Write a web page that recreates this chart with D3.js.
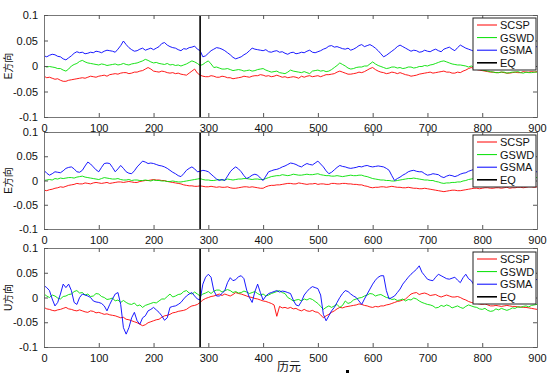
<!DOCTYPE html>
<html>
<head>
<meta charset="utf-8">
<script src="https://cdn.jsdelivr.net/npm/d3@7"></script>
<style>
  body { margin: 0; background: #fff; }
  svg text { font-family: Arial, "Liberation Sans", "Noto Sans CJK SC", sans-serif; }
</style>
</head>
<body>
<div id="chart"></div>
<script>
// values, in units of 0.001 (one value every 5 epochs, 0..900)
const epochStep = 5;
const seriesNames = ["SCSP", "GSWD", "GSMA"];
const eqEpoch = 285;
const xTicks = [0, 100, 200, 300, 400, 500, 600, 700, 800, 900];
const yTicks = [-0.1, -0.05, 0, 0.05, 0.1];
const yTickLabels = ["-0.1", "-0.05", "0", "0.05", "0.1"];
const panelLabels = ["E方向", "E方向", "U方向"];

const scsp1 = [-20,-23,-22,-24,-26,-25,-28,-30,-30,-28, -27,-26,-25,-24,-23,-24,-22,-20,-21,-22,
  -20,-19,-18,-20,-17,-16,-15,-16,-14,-13, -13,-15,-14,-12,-12,-10,-9,-6,-3,-6,
  -10,-11,-12,-10,-11,-13,-14,-13,-15,-14, -16,-17,-18,-14,-10,-6,-14,-18,-20,-21,
  -21,-19,-20,-22,-22,-20,-21,-23,-23,-25, -24,-23,-22,-20,-21,-22,-20,-19,-19,-17,
  -18,-20,-19,-21,-20,-18,-20,-22,-21,-23, -22,-21,-22,-24,-20,-22,-20,-19,-21,-20,
  -19,-21,-19,-17,-17,-16,-15,-12,-10,-12, -14,-16,-16,-15,-14,-12,-13,-11,-8,-5,
  -3,-7,-10,-12,-13,-15,-14,-12,-13,-15, -13,-15,-17,-18,-20,-19,-18,-16,-15,-14,
  -13,-12,-14,-13,-12,-11,-10,-12,-12,-14, -14,-12,-13,-10,-8,-5,-3,-5,-7,-8,
  -9,-10,-11,-12,-12,-13,-13,-12,-13,-14, -14,-13,-12,-13,-13,-11,-12,-12,-11,-12, -11];
const gswd1 = [0,-2,-1,-2,-3,-5,-5,-8,-10,-6, 0,3,5,9,11,8,6,5,4,3,
  2,4,3,1,2,3,4,2,3,5, 3,2,4,5,6,8,10,13,11,8,
  6,7,5,4,3,5,2,3,1,2, 0,2,4,7,10,8,5,1,3,7,
  10,4,-3,-2,-4,-6,-6,-5,-7,-9, -8,-7,-8,-10,-9,-8,-10,-9,-7,-6,
  -5,-8,-10,-12,-11,-10,-13,-14,-15,-12, -8,-10,-11,-12,-13,-11,-13,-15,-10,-9,
  -8,-10,-9,-11,-10,-7,-3,1,6,3, 0,-4,-6,-5,-3,-2,-2,0,0,4,
  8,4,1,-1,-3,-5,-4,-2,-2,-4, -3,-5,-4,-2,-2,-4,-3,-1,-1,1,
  0,2,3,5,7,9,10,8,6,4, 3,2,2,1,0,-2,0,-2,-4,-6,
  -8,-9,-10,-11,-12,-13,-13,-12,-12,-14, -13,-12,-12,-11,-13,-14,-12,-13,-13,-12, -12];
const gsma1 = [20,18,21,23,22,19,18,14,12,16, 20,25,28,26,27,24,25,27,26,29,
  28,26,29,31,30,29,27,33,40,49, 42,36,32,29,30,33,35,31,33,35,
  32,35,38,44,46,41,38,36,35,32, 30,34,33,36,37,39,33,30,18,20,
  25,30,33,36,35,33,30,26,22,17, 14,16,18,22,25,30,35,33,32,31,
  30,32,28,27,29,30,27,28,25,23, 26,27,24,25,27,26,29,31,27,26,
  28,30,33,35,39,40,37,38,36,34, 33,35,31,33,36,40,42,38,40,42,
  39,35,30,24,18,21,25,29,33,38, 41,38,35,32,29,31,30,27,28,31,
  29,28,31,33,30,28,33,35,37,33, 30,36,41,38,35,33,31,29,30,32,
  33,36,35,33,32,34,36,35,34,36, 37,34,35,37,38,36,36,38,39,37, 38];

const scsp2 = [-20,-21,-19,-18,-16,-15,-13,-14,-12,-10, -9,-8,-6,-7,-7,-5,-6,-7,-5,-4,
  -5,-6,-5,-4,-6,-5,-4,-3,-3,-4, -3,-2,-3,-4,-4,-2,-1,0,0,1,
  2,1,1,0,0,-2,-3,-4,-5,-6, -7,-9,-10,-11,-11,-12,-12,-11,-12,-13,
  -13,-12,-13,-14,-13,-14,-14,-13,-15,-16, -16,-15,-14,-13,-13,-14,-13,-14,-15,-16,
  -16,-13,-11,-10,-10,-9,-9,-8,-7,-6, -6,-7,-7,-5,-6,-7,-8,-7,-7,-6,
  -8,-7,-7,-8,-8,-6,-6,-7,-7,-6, -6,-7,-7,-8,-8,-9,-9,-11,-12,-14,
  -15,-14,-14,-13,-13,-14,-13,-12,-13,-14, -14,-15,-15,-14,-15,-16,-16,-17,-17,-16,
  -17,-18,-19,-20,-21,-22,-23,-22,-21,-20, -20,-21,-21,-20,-19,-18,-17,-16,-16,-17,
  -16,-15,-15,-16,-16,-15,-15,-16,-15,-14, -16,-15,-15,-14,-14,-15,-14,-13,-13,-14, -13];
const gswd2 = [0,1,2,1,4,3,5,4,5,6, 6,5,7,8,9,7,6,5,4,3,
  2,4,6,5,4,3,3,4,2,1, 1,2,0,1,1,0,0,1,0,-1,
  1,0,0,-1,-1,-2,-2,-1,-2,-3, -3,-2,-1,0,1,2,3,4,2,1,
  1,0,0,1,2,1,1,3,2,1, 2,3,3,4,4,3,2,3,3,2,
  2,4,6,8,9,10,10,12,11,10, 11,13,12,11,11,12,13,12,12,13,
  14,12,11,10,10,9,9,10,9,8, 9,10,11,10,10,11,11,9,8,6,
  4,3,2,1,1,0,0,-1,-1,0, 1,2,3,4,4,5,4,3,2,1,
  1,0,0,-2,-3,-5,-6,-5,-5,-4, -4,-3,-3,-1,0,2,3,4,4,5,
  5,4,5,6,6,5,5,6,6,5, 6,6,5,6,6,7,6,5,5,6, 6];
const gsma2 = [21,15,11,14,18,17,16,20,25,27, 28,24,18,17,21,30,38,34,28,22,
  18,27,35,36,35,27,18,24,31,25, 18,15,14,20,28,34,40,38,35,36,
  35,33,31,30,28,25,21,17,14,10, 8,14,21,25,28,24,18,19,21,20,
  18,13,8,3,0,2,0,9,18,24, 28,24,18,10,4,7,11,13,11,5,
  0,9,18,20,22,23,25,28,30,33, 36,35,33,30,28,32,35,33,32,36,
  40,34,28,20,14,17,22,27,31,29, 28,26,25,26,27,29,28,30,31,29,
  28,29,30,29,28,25,21,10,0,4, 7,11,14,18,20,21,19,18,18,14,
  11,12,14,13,12,8,6,9,11,10, 8,10,13,15,16,19,21,23,25,23,
  22,21,20,19,18,19,20,18,17,18, 19,18,18,19,20,19,18,19,19,18, 18];

const scsp3 = [-20,-23,-24,-26,-27,-25,-24,-22,-20,-23, -24,-26,-27,-25,-27,-29,-30,-27,-28,-31,
  -30,-32,-34,-33,-35,-36,-37,-39,-41,-40, -44,-45,-47,-49,-51,-54,-57,-55,-51,-49,
  -47,-45,-44,-40,-37,-36,-34,-31,-30,-28, -27,-26,-24,-20,-17,-16,-14,-10,-5,-2,
  0,2,3,5,7,4,7,5,3,6, 10,8,7,5,3,1,0,-2,-3,-5,
  -7,-8,-10,-12,-15,-38,-18,-21,-20,-22, -20,-23,-22,-25,-27,-24,-27,-28,-26,-29,
  -30,-35,-41,-37,-34,-30,-27,-23,-20,-21, -19,-18,-17,-16,-15,-13,-14,-16,-17,-19,
  -20,-18,-19,-17,-17,-15,-14,-12,-10,-8, -7,-5,-3,2,7,9,10,6,8,9,
  7,4,5,6,3,1,3,5,3,1, 1,2,0,-3,-5,-8,-10,-11,-12,-13,
  -14,-13,-15,-17,-17,-16,-17,-18,-17,-16, -17,-18,-18,-19,-19,-20,-20,-21,-22,-23, -24];
const gswd3 = [7,3,0,5,3,-1,-3,2,3,6, 7,12,14,9,10,5,7,2,3,8,
  7,2,0,-4,-3,-1,-7,-5,-10,-6, -10,-13,-14,-11,-17,-15,-20,-16,-14,-12,
  -10,-11,-7,-3,-3,2,7,1,3,6, 7,12,14,9,7,11,7,3,7,9,
  12,8,13,15,15,11,14,16,14,10, 12,9,10,13,11,8,10,12,8,5,
  7,3,5,8,10,12,14,10,8,0, -3,-7,-5,-4,-7,-3,-5,-2,-4,-8,
  -12,-18,-24,-20,-17,-20,-17,-14,-20,-16, -7,-12,-10,-5,-3,-1,0,3,5,8,
  7,3,5,6,3,0,-1,-4,-3,-6, -5,-3,-7,-4,-5,-1,-3,-7,-10,-12,
  -14,-15,-17,-21,-20,-16,-18,-15,-17,-21, -19,-17,-20,-22,-18,-15,-17,-19,-20,-23,
  -24,-22,-26,-28,-27,-23,-25,-22,-24,-26, -24,-21,-22,-19,-20,-18,-17,-19,-16,-15, -14];
const gsma3 = [24,20,14,-3,-17,-10,7,27,20,27, 14,-10,-14,0,7,5,3,0,-7,-9,
  -10,-12,-17,-27,-14,-3,7,10,-14,-61, -74,-61,-41,-30,-47,-54,-41,-37,-27,-24,
  -20,-25,-30,-37,-46,-41,-20,-18,-17,-14, -10,-3,3,7,10,3,-3,-5,27,41,
  47,41,14,3,3,8,14,30,40,34, 36,42,44,38,15,0,-10,12,27,10,
  -5,3,8,10,12,14,11,13,12,10, 8,-5,-15,-17,-8,5,12,18,22,20,
  18,5,-34,-47,-37,-27,-20,-10,0,8, 14,12,7,3,0,-7,-14,-3,7,17,
  27,35,41,44,44,14,-3,0,3,10, 17,27,34,41,47,52,57,64,51,44,
  37,35,34,41,47,44,41,38,37,39, 41,35,30,40,47,38,34,25,20,25,
  30,32,28,33,35,31,34,36,33,35, 37,34,36,38,35,37,36,38,35,37, 36];

const colors = ["#ff0000", "#00e000", "#0000ff"];

const panels = [
  { label: panelLabels[0], top: 15, bottom: 117, series: [scsp1, gswd1, gsma1], legendTop: 18 },
  { label: panelLabels[1], top: 132, bottom: 229, series: [scsp2, gswd2, gsma2], legendTop: 135 },
  { label: panelLabels[2], top: 248, bottom: 347, series: [scsp3, gswd3, gsma3], legendTop: 252 }
];

const width = 553, height = 373;
const left = 44, right = 537;

const svg = d3.select("#chart").append("svg")
  .attr("width", width)
  .attr("height", height);

const x = d3.scaleLinear().domain([0, 900]).range([left, right]);

panels.forEach((p, pi) => {
  const y = d3.scaleLinear().domain([-0.1, 0.1]).range([p.bottom, p.top]);
  const g = svg.append("g");

  const clipId = "clip" + pi;
  g.append("clipPath").attr("id", clipId)
    .append("rect")
    .attr("x", left).attr("y", p.top)
    .attr("width", right - left).attr("height", p.bottom - p.top);

  const line = d3.line()
    .x((d, i) => x(i * epochStep))
    .y(d => y(d / 1000));

  const plot = g.append("g").attr("clip-path", `url(#${clipId})`);
  p.series.forEach((s, si) => {
    plot.append("path")
      .datum(s)
      .attr("d", line)
      .attr("fill", "none")
      .attr("stroke", colors[si])
      .attr("stroke-width", 0.9)
      .attr("stroke-linejoin", "round");
  });

  // earthquake epoch
  plot.append("line")
    .attr("x1", x(eqEpoch)).attr("x2", x(eqEpoch))
    .attr("y1", p.top).attr("y2", p.bottom)
    .attr("stroke", "#000")
    .attr("stroke-width", 1.6);

  // axes, matlab style (ticks inside, box all round)
  const ax = g.append("g").attr("transform", `translate(0,${p.bottom})`)
    .call(d3.axisBottom(x).tickValues(xTicks).tickSize(-4).tickPadding(7).tickFormat(d3.format("d")));
  const axTop = g.append("g").attr("transform", `translate(0,${p.top})`)
    .call(d3.axisTop(x).tickValues(xTicks).tickSize(-4).tickFormat(""));
  const ay = g.append("g").attr("transform", `translate(${left},0)`)
    .call(d3.axisLeft(y).tickValues(yTicks).tickSize(-4).tickPadding(6)
      .tickFormat((d, i) => yTickLabels[i]));
  const ayR = g.append("g").attr("transform", `translate(${right},0)`)
    .call(d3.axisRight(y).tickValues(yTicks).tickSize(-4).tickFormat(""));

  [ax, axTop, ay, ayR].forEach(a => {
    a.select(".domain").attr("stroke", "#777").attr("stroke-width", 1);
    a.selectAll(".tick line").attr("stroke", "#555");
    a.selectAll("text").attr("fill", "#111").style("font-size", "11px");
  });

  // y label
  g.append("text")
    .attr("transform", `translate(12,${(p.top + p.bottom) / 2}) rotate(-90)`)
    .attr("text-anchor", "middle")
    .style("font-size", "10px")
    .attr("fill", "#111")
    .text(p.label);

  // legend
  const lg = g.append("g").attr("transform", `translate(473,${p.legendTop})`);
  lg.append("rect")
    .attr("width", 63).attr("height", 52)
    .attr("fill", "#fff")
    .attr("stroke", "#222")
    .attr("stroke-width", 1);
  const legendNames = seriesNames.concat(["EQ"]);
  const legendColors = colors.concat(["#000"]);
  legendNames.forEach((n, i) => {
    const yy = 7 + i * 12.6;
    lg.append("line")
      .attr("x1", 4).attr("x2", 24)
      .attr("y1", yy).attr("y2", yy)
      .attr("stroke", legendColors[i])
      .attr("stroke-width", i === 3 ? 1.6 : 1);
    lg.append("text")
      .attr("x", 27).attr("y", yy + 4)
      .style("font-size", "11px")
      .attr("fill", "#111")
      .text(n);
  });
});

// x label
svg.append("text")
  .attr("x", 289).attr("y", 371)
  .attr("text-anchor", "middle")
  .style("font-size", "12px")
  .attr("fill", "#111")
  .text("历元");

svg.append("rect")
  .attr("x", 346).attr("y", 370)
  .attr("width", 3).attr("height", 3)
  .attr("fill", "#000");
</script>
</body>
</html>
